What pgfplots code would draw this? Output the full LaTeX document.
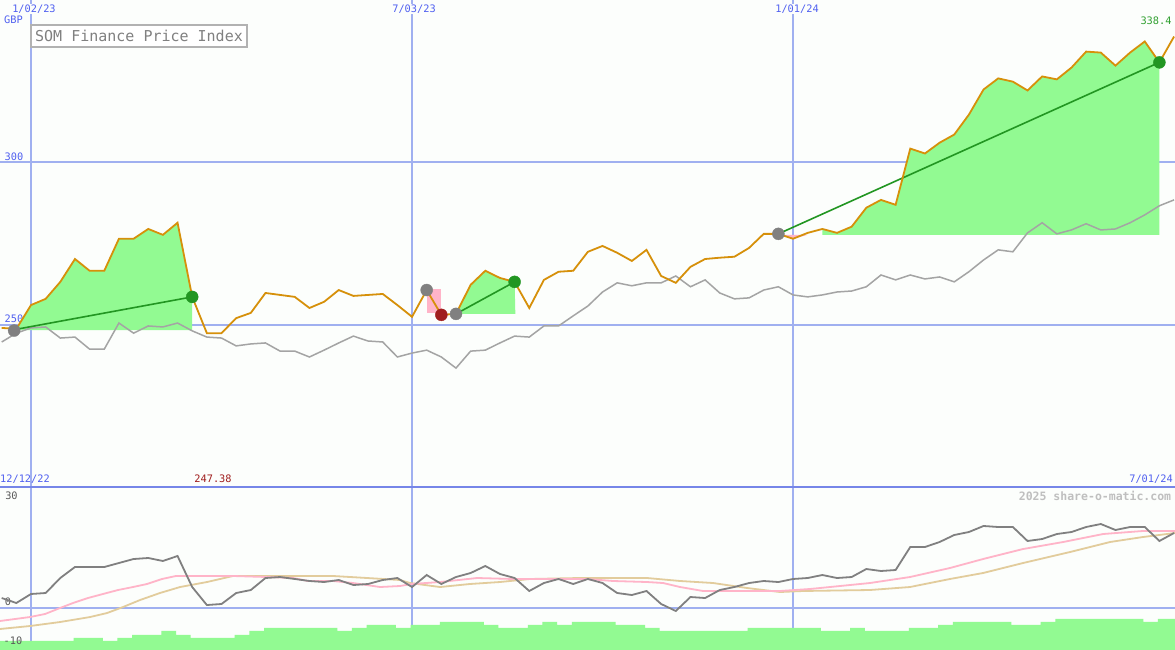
\documentclass[border=0pt]{standalone}
\usepackage{pgfplots}
\pgfplotsset{compat=1.18}
\usepackage{pgfplotstable}
\usepackage{fontspec}
\setmainfont{DejaVu Sans Mono}
\setmonofont{DejaVu Sans Mono}
\definecolor{bgc}{RGB}{252,254,252}
\definecolor{gridc}{RGB}{160,176,240}
\definecolor{sepc}{RGB}{118,134,232}
\definecolor{labc}{RGB}{80,96,240}
\definecolor{orangec}{RGB}{214,144,10}
\definecolor{benchc}{RGB}{164,164,164}
\definecolor{fillg}{RGB}{146,250,146}
\definecolor{trendc}{RGB}{34,150,34}
\definecolor{markg}{RGB}{128,128,128}
\definecolor{markr}{RGB}{160,30,30}
\definecolor{pinkc}{RGB}{255,180,200}
\definecolor{tanc}{RGB}{226,204,156}
\definecolor{momc}{RGB}{128,128,128}
\definecolor{labg}{RGB}{48,160,48}

\pgfplotstableread{
k p b
-2 249.1 244.8
-1 248.8 247.5
0 256.1 249.1
1 258.0 249.4
2 263.2 246.0
3 270.2 246.3
4 266.6 242.6
5 266.6 242.6
6 276.4 250.6
7 276.4 247.5
8 279.4 249.7
9 277.6 249.4
10 281.3 250.6
11 258.6 248.2
12 247.5 246.3
13 247.5 246.0
14 252.1 243.6
15 253.7 244.2
16 259.8 244.5
17 259.2 242.0
18 258.6 242.0
19 255.2 240.2
20 257.1 242.3
21 260.7 244.5
22 258.9 246.6
23 259.2 245.1
24 259.5 244.8
25 256.1 240.2
26 252.5 241.4
27 260.7 242.3
28 253.1 240.2
29 253.4 236.8
30 262.3 242.0
31 266.6 242.3
32 264.4 244.5
33 263.2 246.6
34 255.2 246.3
35 263.8 249.7
36 266.3 249.7
37 266.6 252.8
38 272.4 255.8
39 274.2 260.1
40 272.1 262.9
41 269.6 262.0
42 273.0 262.9
43 265.0 262.9
44 262.9 265.0
45 267.8 261.7
46 270.2 263.8
47 270.6 259.8
48 270.9 258.0
49 273.6 258.3
50 277.9 260.7
51 277.9 261.7
52 276.4 259.2
53 278.2 258.6
54 279.4 259.2
55 278.2 260.1
56 280.1 260.4
57 285.9 261.7
58 288.3 265.3
59 286.8 263.8
60 304.0 265.3
61 302.5 264.1
62 305.8 264.7
63 308.3 263.2
64 314.4 266.3
65 322.1 269.9
66 325.5 273.0
67 324.5 272.4
68 321.8 278.2
69 326.1 281.3
70 325.2 277.9
71 328.8 279.1
72 333.7 281.0
73 333.4 279.1
74 329.4 279.4
75 333.4 281.3
76 336.8 283.7
77 330.4 286.5
78 338.3 288.3
}\price

\pgfplotstableread{
k m
-2 2.74
-1 1.37
0 3.84
1 4.11
2 8.22
3 11.23
4 11.23
5 11.23
6 12.33
7 13.42
8 13.70
9 12.88
10 14.25
11 5.75
12 0.82
13 1.10
14 4.11
15 4.93
16 8.22
17 8.49
18 7.95
19 7.40
20 7.12
21 7.67
22 6.30
23 6.58
24 7.67
25 8.22
26 5.75
27 9.04
28 6.58
29 8.49
30 9.59
31 11.51
32 9.32
33 8.22
34 4.66
35 6.85
36 7.95
37 6.58
38 7.95
39 6.85
40 4.11
41 3.56
42 4.66
43 1.10
44 -0.82
45 3.01
46 2.74
47 4.93
48 5.75
49 6.85
50 7.40
51 7.12
52 7.95
53 8.22
54 9.04
55 8.22
56 8.49
57 10.68
58 10.14
59 10.41
60 16.71
61 16.71
62 18.08
63 20.00
64 20.82
65 22.47
66 22.19
67 22.19
68 18.36
69 18.90
70 20.27
71 20.82
72 22.19
73 23.01
74 21.37
75 22.19
76 22.19
77 18.36
78 20.55
}\osc

\pgfplotstableread{
k v
-3.1 9
-2.1 9
-1.1 9
-0.1 9
0.9 9
1.9 9
2.9 12
3.9 12
4.9 9
5.9 12
6.9 15
7.9 15
8.9 19
9.9 15
10.9 12
11.9 12
12.9 12
13.9 15
14.9 19
15.9 22
16.9 22
17.9 22
18.9 22
19.9 22
20.9 19
21.9 22
22.9 25
23.9 25
24.9 22
25.9 25
26.9 25
27.9 28
28.9 28
29.9 28
30.9 25
31.9 22
32.9 22
33.9 25
34.9 28
35.9 25
36.9 28
37.9 28
38.9 28
39.9 25
40.9 25
41.9 22
42.9 19
43.9 19
44.9 19
45.9 19
46.9 19
47.9 19
48.9 22
49.9 22
50.9 22
51.9 22
52.9 22
53.9 19
54.9 19
55.9 22
56.9 19
57.9 19
58.9 19
59.9 22
60.9 22
61.9 25
62.9 28
63.9 28
64.9 28
65.9 28
66.9 25
67.9 25
68.9 28
69.9 31
70.9 31
71.9 31
72.9 31
73.9 31
74.9 31
75.9 28
76.9 31
77.9 31
78.9 31
}\vol

\begin{document}
\begin{tikzpicture}[x=1pt,y=1pt]
\path[use as bounding box] (0,0) rectangle (1175,650);
\fill[bgc] (0,0) rectangle (1175,650);

% axis labels lying under the lines
\begin{scope}[font=\fontsize{10.3}{12}\selectfont, inner sep=0pt]
\node[labc] at (13.5,630) {GBP};
\node[labc] at (14,493) {300};
\node[labc] at (14,331) {250};
\node[black!65] at (11.5,154) {30};
\node[black!65] at (8,48) {0};
\end{scope}

% ---------------- price panel ----------------
\begin{axis}[at={(0pt,163pt)}, anchor=south west, scale only axis,
  width=1175pt, height=487pt,
  xmin=-2.1155, xmax=78.067, ymin=200.4, ymax=349.5,
  axis line style={draw=none}, tick style={draw=none},
  xtick={0,26,52}, ytick={250,300}, xticklabels={}, yticklabels={},
  grid=major,
  major x grid style={gridc, line width=1.3pt},
  major y grid style={gridc, line width=2pt}]
% trade areas
\addplot[fill=fillg, draw=none] coordinates {(-1.1,248.4) (-1,248.8) (0,256.1) (1,258.0) (2,263.2) (3,270.2) (4,266.6) (5,266.6) (6,276.4) (7,276.4) (8,279.4) (9,277.6) (10,281.3) (11,258.6) (11,248.4)} --cycle;
\addplot[fill=pinkc, draw=none] coordinates {(27,260.9) (28,260.9) (28,253.6) (27,253.6)} --cycle;
\addplot[fill=fillg, draw=none] coordinates {(29,253.4) (30,262.3) (31,266.6) (32,264.4) (33,263.2) (33.05,253.4)} --cycle;
\addplot[fill=pinkc, draw=none] coordinates {(51,277.6) (52,276.4) (53,277.6)} --cycle;
\addplot[fill=fillg, draw=none] coordinates {(54,277.6) (54,279.4) (55,278.2) (56,280.1) (57,285.9) (58,288.3) (59,286.8) (60,304.0) (61,302.5) (62,305.8) (63,308.3) (64,314.4) (65,322.1) (66,325.5) (67,324.5) (68,321.8) (69,326.1) (70,325.2) (71,328.8) (72,333.7) (73,333.4) (74,329.4) (75,333.4) (76,336.8) (77,330.4) (77,277.6)} --cycle;
% benchmark
\addplot[benchc, line width=1.5pt] table[x=k, y=b] {\price};
% entry / losing exit markers (under the price line)
\addplot[only marks, mark=*, mark size=6pt, mark options={draw=markg, fill=markg}] coordinates {(-1.15,248.3) (27,260.7) (29,253.4) (51,277.9)};
\addplot[only marks, mark=*, mark size=6pt, mark options={draw=markr, fill=markr}] coordinates {(28,253.1)};
% trend lines
\addplot[trendc, line width=1.6pt] coordinates {(-1.1,248.6) (11,258.6)};
\addplot[trendc, line width=1.6pt] coordinates {(29,253.4) (33,263.2)};
\addplot[trendc, line width=1.6pt] coordinates {(51,277.9) (77,330.4)};
% price
\addplot[orangec, line width=1.8pt] table[x=k, y=p] {\price};
% winning exit markers
\addplot[only marks, mark=*, mark size=6pt, mark options={draw=trendc, fill=trendc}] coordinates {(11,258.6) (33,263.2) (77,330.4)};
\end{axis}

% ---------------- oscillator panel ----------------
\begin{axis}[at={(0pt,0pt)}, anchor=south west, scale only axis,
  width=1175pt, height=163pt,
  xmin=-2.1155, xmax=78.067, ymin=-11.5, ymax=33.15,
  axis line style={draw=none}, tick style={draw=none},
  xtick={0,26,52}, ytick={0}, xticklabels={}, yticklabels={},
  grid=major,
  major x grid style={gridc, line width=1.3pt},
  major y grid style={gridc, line width=2pt}]
\addplot[tanc, line width=1.8pt] coordinates {(-2.12,-5.75) (-0.07,-4.93) (1.98,-3.84) (4.03,-2.47) (5.19,-1.37) (6.28,0.27) (7.44,2.19) (8.80,4.11) (10.17,5.75) (12.01,7.12) (13.78,8.77) (20.61,8.77) (22.93,8.22) (25.18,7.67) (25.86,6.85) (27.91,5.75) (29.96,6.58) (32.00,7.12) (34.05,7.95) (37.46,8.22) (42.04,8.22) (44.29,7.40) (46.54,6.85) (48.86,5.48) (51.11,4.38) (52.68,4.66) (57.25,4.93) (59.98,5.75) (62.71,7.95) (64.97,9.59) (67.70,12.33) (70.90,15.34) (73.63,18.08) (75.88,19.45) (78.07,20.55)};
\addplot[pinkc, line width=1.8pt] coordinates {(-2.12,-3.56) (-0.07,-2.47) (0.96,-1.64) (1.98,0) (2.87,1.37) (3.89,2.74) (4.91,3.84) (5.94,4.93) (6.96,5.75) (7.92,6.58) (8.94,7.95) (9.89,8.77) (10.99,8.77) (13.78,8.77) (16.10,8.49) (17.88,8.22) (18.90,7.40) (20.61,7.40) (21.97,6.85) (23.82,5.75) (25.18,6.03) (26.00,6.58) (27.91,7.12) (30.44,8.22) (32.89,7.95) (35.21,7.95) (37.94,7.95) (39.72,7.40) (42.04,7.12) (43.13,6.85) (44.29,5.75) (45.86,4.66) (47.70,4.66) (51.11,4.66) (53.16,5.21) (54.52,5.75) (57.25,6.85) (59.98,8.49) (62.71,10.96) (64.97,13.42) (67.70,16.16) (70.43,18.08) (73.16,20.27) (75.88,21.10) (78.07,21.10)};
\addplot[momc, line width=1.8pt] table[x=k, y=m] {\osc};
\end{axis}

% ---------------- volume ----------------
\begin{axis}[at={(0pt,0pt)}, anchor=south west, scale only axis,
  width=1175pt, height=163pt,
  xmin=-2.1155, xmax=78.067, ymin=0, ymax=163,
  hide axis]
\addplot[const plot mark left, fill=fillg, draw=none] table[x=k, y=v] {\vol} \closedcycle;
\end{axis}

\draw[sepc, line width=2.2pt] (0,163) -- (1175,163);

% ---------------- labels ----------------
\begin{scope}[font=\fontsize{10.3}{12}\selectfont, inner sep=0pt]
\node[labc, fill=bgc, inner sep=1pt] at (34,641) {1/02/23};
\node[labc, fill=bgc, inner sep=1pt] at (414,641) {7/03/23};
\node[labc, fill=bgc, inner sep=1pt] at (797,641) {1/01/24};
\node[labg] at (1156,629) {338.4};
\node[labc] at (25,171) {12/12/22};
\node[markr] at (213,171) {247.38};
\node[labc] at (1151,171) {7/01/24};
\node[black!65] at (13,9) {-10};
\node[black!25, font=\fontsize{11.5}{13}\selectfont\bfseries] at (1095,154) {2025 share-o-matic.com};
\end{scope}
\draw[black!30, line width=2pt, fill=white] (31,603) rectangle (247,625);
\node[black!50, font=\fontsize{15}{18}\selectfont, inner sep=0pt] at (139,614) {SOM Finance Price Index};
\end{tikzpicture}
\end{document}
